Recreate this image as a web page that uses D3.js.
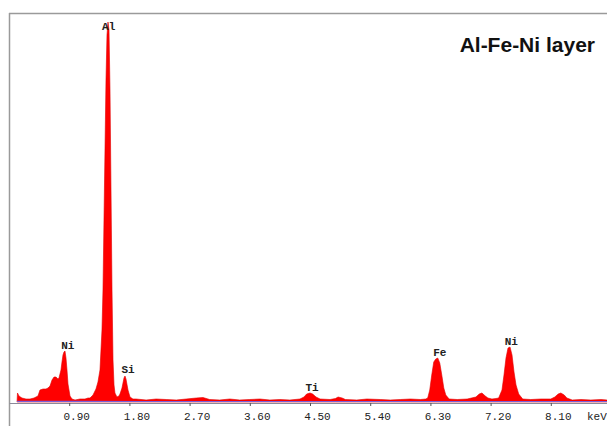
<!DOCTYPE html>
<html>
<head>
<meta charset="utf-8">
<script src="https://cdn.jsdelivr.net/npm/d3@7"></script>
<style>
  html, body { margin: 0; padding: 0; background: #fff; }
  svg { display: block; }
  .peak-label { font-family: 'Liberation Mono', 'DejaVu Sans Mono', monospace; font-size: 11px; font-weight: bold; fill: #222; }
  .tick text { font-family: 'Liberation Mono', 'DejaVu Sans Mono', monospace; font-size: 11px; fill: #222; }
</style>
</head>
<body>
<div id="chart"></div>
<script>
// spectrum: energy (keV) and counts (arbitrary units)
const energies = [
  0.120, 0.127, 0.149, 0.194, 0.254, 0.314, 0.374, 0.433, 0.463, 0.508, 0.553, 0.583,
  0.613, 0.643, 0.673, 0.703, 0.732, 0.747, 0.777, 0.792, 0.807, 0.822, 0.837, 0.852,
  0.867, 0.882, 0.912, 0.942, 0.987, 1.061, 1.136, 1.181, 1.211, 1.256, 1.300, 1.330,
  1.360, 1.390, 1.405, 1.420, 1.435, 1.450, 1.465, 1.480, 1.495, 1.510, 1.525, 1.540,
  1.555, 1.570, 1.584, 1.614, 1.644, 1.659, 1.689, 1.719, 1.734, 1.749, 1.779, 1.809,
  1.853, 1.90, 2.05, 2.20, 2.35, 2.50, 2.65, 2.80, 2.90, 3.00, 3.15, 3.30, 3.45, 3.60,
  3.75, 3.90, 4.05, 4.20, 4.35, 4.41, 4.45, 4.50, 4.54, 4.59, 4.65, 4.80, 4.88, 4.92,
  4.98, 5.03, 5.20, 5.35, 5.55, 5.70, 5.85, 6.00, 6.15, 6.23, 6.26, 6.29, 6.32, 6.35,
  6.38, 6.41, 6.44, 6.47, 6.50, 6.53, 6.58, 6.70, 6.85, 6.98, 7.03, 7.07, 7.12, 7.16,
  7.22, 7.28, 7.32, 7.37, 7.40, 7.43, 7.46, 7.49, 7.52, 7.55, 7.58, 7.62, 7.68, 7.80,
  7.95, 8.10, 8.16, 8.21, 8.25, 8.30, 8.34, 8.42, 8.55, 8.70, 8.85, 8.94
];
const counts = [
  0, 90, 60, 40, 30, 30, 40, 60, 120, 130, 130, 140,
  160, 220, 250, 250, 230, 240, 320, 400, 470, 500, 510, 440,
  320, 180, 60, 30, 20, 30, 30, 40, 40, 70, 130, 200,
  320, 720, 1120, 1820, 2520, 3220, 3670, 3800, 3720, 3120, 2120, 1120,
  420, 170, 90, 50, 60, 80, 140, 240, 260, 230, 120, 50,
  30, 30, 20, 30, 25, 20, 30, 40, 45, 25, 20, 30, 20, 25,
  30, 20, 25, 20, 30, 50, 80, 90, 80, 50, 30, 25, 35, 50,
  40, 25, 20, 30, 25, 20, 25, 30, 25, 30, 40, 120, 270, 400,
  430, 440, 390, 270, 140, 70, 30, 25, 30, 50, 80, 90, 60, 40,
  30, 35, 40, 120, 270, 440, 540, 550, 470, 300, 170, 80, 30, 25,
  30, 30, 50, 80, 90, 70, 40, 20, 25, 20, 25, 20
];

// background fit line
const bgEnergies = [0.12, 1.0, 2.0, 3.0, 4.0, 5.0, 6.0, 7.0, 8.0, 8.94];
const bgCounts = [6, 6, 5, 5, 5, 5, 5, 5, 5, 5];

// peak labels
const peakNames = ['Al', 'Ni', 'Si', 'Ti', 'Fe', 'Ni'];
const peakEnergies = [1.49, 0.88, 1.78, 4.53, 6.44, 7.51];
const peakLabelCounts = [3720, 530, 290, 110, 460, 570];

const tickValues = [0.9, 1.8, 2.7, 3.6, 4.5, 5.4, 6.3, 7.2, 8.1];
const title = 'Al-Fe-Ni layer';
const unitLabel = 'keV';

const width = 607, height = 426;

const svg = d3.select('#chart')
  .append('svg')
  .attr('width', width)
  .attr('height', height);

const x = d3.scaleLinear().domain([0, 8.94]).range([9, 607]);
const y = d3.scaleLinear().domain([0, 3890]).range([402, 13]);

// frame (top and left only)
svg.append('line')
  .attr('x1', 9).attr('x2', width)
  .attr('y1', 13.5).attr('y2', 13.5)
  .attr('stroke', '#9a9a9a').attr('stroke-width', 1.5);
svg.append('line')
  .attr('x1', 9.5).attr('x2', 9.5)
  .attr('y1', 13).attr('y2', height)
  .attr('stroke', '#9a9a9a').attr('stroke-width', 1.5);

const data = energies.map((e, i) => ({e, c: counts[i]}));

const area = d3.area()
  .x(d => x(d.e))
  .y0(y(0))
  .y1(d => y(d.c));

svg.append('path')
  .datum(data)
  .attr('fill', '#ff0000')
  .attr('stroke', '#e00000')
  .attr('stroke-width', 0.6)
  .attr('d', area);

// axis
const axis = d3.axisBottom(x)
  .tickValues(tickValues)
  .tickSize(3)
  .tickSizeOuter(0)
  .tickFormat(d3.format('.2f'));

const gAxis = svg.append('g')
  .attr('transform', `translate(0,${y(0) + 1})`)
  .call(axis);
gAxis.select('.domain').attr('stroke', '#8a8a9a').attr('stroke-width', 1);
gAxis.selectAll('.tick line').attr('stroke', '#555');
gAxis.selectAll('.tick text')
  .attr('x', 7)
  .attr('y', 17)
  .attr('dy', 0);

// background line
const bgLine = d3.line()
  .x((d, i) => x(bgEnergies[i]))
  .y(d => y(d));
svg.append('path')
  .datum(bgCounts)
  .attr('fill', 'none')
  .attr('stroke', '#7a5fd8')
  .attr('stroke-width', 1.2)
  .attr('d', bgLine);

svg.append('text')
  .attr('class', 'peak-label')
  .attr('x', 587)
  .attr('y', 420)
  .style('font-weight', 'normal')
  .text(unitLabel);

// peak labels
svg.selectAll('.peak')
  .data(peakNames)
  .enter()
  .append('text')
  .attr('class', 'peak-label')
  .attr('text-anchor', 'middle')
  .attr('x', (d, i) => x(peakEnergies[i]))
  .attr('y', (d, i) => y(peakLabelCounts[i]))
  .text(d => d);

svg.append('text')
  .attr('x', 595)
  .attr('y', 52)
  .attr('text-anchor', 'end')
  .style('font-family', "'Liberation Sans', Arial, sans-serif")
  .style('font-weight', 'bold')
  .style('font-size', '21px')
  .attr('fill', '#111')
  .text(title);
</script>
</body>
</html>
